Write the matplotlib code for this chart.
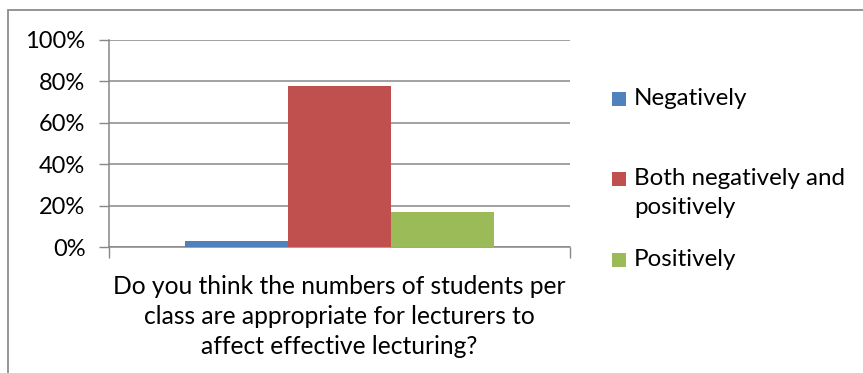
import matplotlib
matplotlib.use("Agg")
import matplotlib.pyplot as plt
from matplotlib.patches import Rectangle
from matplotlib.ticker import PercentFormatter

# Survey result data
category = "Do you think the numbers of students per\nclass are appropriate for lecturers to\naffect effective lecturing?"
series_names = ["Negatively", "Both negatively and\npositively", "Positively"]
series_values = [0.03, 0.78, 0.17]
series_colors = ["#4F81BD", "#C0504D", "#9BBB59"]
y_ticks = [0.0, 0.2, 0.4, 0.6, 0.8, 1.0]

plt.rcParams["font.family"] = ["Lato", "DejaVu Sans"]
FS_TICK = 17
FS_CAT = 17.7
FS_LEG = 17.4

W, H = 863, 373
fig = plt.figure(figsize=(W / 100, H / 100), dpi=100)


def fx(px):
    return px / W


def fy(py):
    return 1 - py / H


# Chart-area frame
fig.patches.append(Rectangle((fx(8), -0.1), 1.2, fy(10) + 0.1,
                             transform=fig.transFigure, fill=False,
                             edgecolor="#8c8c8c", linewidth=1.3))

ax = fig.add_axes([fx(109), fy(247), fx(461), 207 / H])

bar_w = 0.2234
offsets = [-bar_w, 0.0, bar_w]
for name, val, col, off in zip(series_names, series_values, series_colors, offsets):
    ax.bar(off, val, width=bar_w, color=col, label=name, zorder=3)

ax.set_xlim(-0.5, 0.5)
ax.set_ylim(0, 1.0)
ax.set_yticks(y_ticks)
ax.yaxis.set_major_formatter(PercentFormatter(1.0, decimals=0))
ax.tick_params(axis="y", length=7, width=1.0, color="#888888", pad=10,
               labelsize=FS_TICK, labelcolor="#000000")
ax.set_xticks([-0.5, 0.5])
ax.set_xticklabels(["", ""])
ax.tick_params(axis="x", length=8, width=1.0, color="#888888")
ax.grid(axis="y", color="#888888", linewidth=1.1, zorder=0)
ax.set_axisbelow(True)

for side in ["top", "right"]:
    ax.spines[side].set_visible(False)
for side in ["left", "bottom"]:
    ax.spines[side].set_color("#888888")
    ax.spines[side].set_linewidth(1.1)

ax.text(0.5, -0.335, category, transform=ax.transAxes, ha="center", va="center",
        fontsize=FS_CAT, linespacing=1.38, color="#000000")

# Legend: colour key squares with labels to their right
key_rows = [99, 179, 260]
sq = 14
for name, col, row in zip(series_names, series_colors, key_rows):
    fig.patches.append(Rectangle((fx(612), fy(row + sq / 2)), sq / W, sq / H,
                                 transform=fig.transFigure, facecolor=col,
                                 edgecolor="none"))
    fig.text(fx(634), fy(row - 11), name, ha="left", va="top",
             fontsize=FS_LEG, linespacing=1.45, color="#000000")

fig.savefig("out.png", dpi=100)
